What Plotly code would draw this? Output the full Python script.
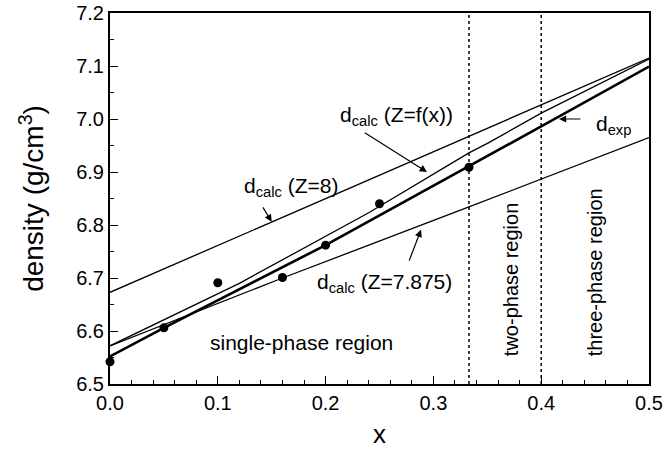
import plotly.graph_objects as go

# experimental points
x_pts = [0.0, 0.05, 0.1, 0.16, 0.2, 0.25, 0.333]
d_pts = [6.542, 6.606, 6.691, 6.701, 6.762, 6.840, 6.909]

# d_exp (thick line)
x_exp = [0.0, 0.05, 0.2, 0.333, 0.4, 0.5]
d_exp = [6.552, 6.606, 6.762, 6.910, 6.986, 7.099]

# d_calc (Z=f(x))
x_fx = [0.0, 0.12, 0.24, 0.333, 0.351, 0.4, 0.5]
d_fx = [6.572, 6.690, 6.823, 6.936, 6.955, 7.011, 7.113]

# d_calc (Z=8)
x_z8 = [0.0, 0.5]
d_z8 = [6.673, 7.115]

# d_calc (Z=7.875)
x_z7 = [0.0, 0.16, 0.333, 0.5]
d_z7 = [6.572, 6.700, 6.834, 6.965]

# phase boundaries
x_bounds = [0.333, 0.4]

FONT = "Liberation Sans, Arial, sans-serif"

fig = go.Figure()
fig.add_trace(go.Scatter(x=x_z8, y=d_z8, mode="lines", line=dict(color="black", width=1.3), showlegend=False))
fig.add_trace(go.Scatter(x=x_z7, y=d_z7, mode="lines", line=dict(color="black", width=1.3), showlegend=False))
fig.add_trace(go.Scatter(x=x_fx, y=d_fx, mode="lines", line=dict(color="black", width=1.3), showlegend=False))
fig.add_trace(go.Scatter(x=x_exp, y=d_exp, mode="lines", line=dict(color="black", width=2.6), showlegend=False))
fig.add_trace(go.Scatter(x=x_pts, y=d_pts, mode="markers", marker=dict(color="black", size=9),
                         cliponaxis=False, showlegend=False))

for xb in x_bounds:
    fig.add_shape(type="line", x0=xb, x1=xb, y0=6.5, y1=7.2, xref="x", yref="y",
                  line=dict(color="black", width=1.5, dash="dot"))

texts = [
    ("d<sub>calc</sub> (Z=f(x))", 0.2658, 7.006, 0, 21),
    ("d<sub>calc</sub> (Z=8)", 0.1679, 6.872, 0, 21),
    ("d<sub>calc</sub> (Z=7.875)", 0.2542, 6.691, 0, 21),
    ("d<sub>exp</sub>", 0.467, 6.989, 0, 21),
    ("single-phase region", 0.1776, 6.579, 0, 21),
    ("two-phase region", 0.372, 6.696, -90, 20),
    ("three-phase region", 0.4495, 6.710, -90, 20),
]
for t, x, y, ang, sz in texts:
    fig.add_annotation(x=x, y=y, text=t, showarrow=False, textangle=ang,
                       font=dict(family=FONT, size=sz, color="black"))

arrows = [
    (0.294, 6.900, 0.235, 6.976),
    (0.150, 6.806, 0.141, 6.836),
    (0.2885, 6.791, 0.277, 6.730),
    (0.4165, 7.000, 0.4378, 7.000),
]
for hx, hy, tx, ty in arrows:
    fig.add_annotation(x=hx, y=hy, ax=tx, ay=ty, xref="x", yref="y", axref="x", ayref="y",
                       text="", showarrow=True, arrowhead=2, arrowsize=1.2, arrowwidth=1.2,
                       arrowcolor="black")

fig.update_xaxes(range=[0, 0.5], dtick=0.1, tickformat=".1f", ticks="inside", ticklen=8,
                 tickwidth=1.3, tickcolor="black", showline=True, linecolor="black", linewidth=2,
                 mirror=True, showgrid=False, zeroline=False, automargin=False,
                 minor=dict(dtick=0.02, ticks="inside", ticklen=4, tickcolor="black", showgrid=False),
                 tickfont=dict(family=FONT, size=20, color="black"),
                 title=dict(text="x", font=dict(family=FONT, size=26, color="black"), standoff=12))
fig.update_yaxes(range=[6.5, 7.2], dtick=0.1, tickformat=".1f", ticks="inside", ticklen=8,
                 tickwidth=1.3, tickcolor="black", showline=True, linecolor="black", linewidth=2,
                 mirror=True, showgrid=False, zeroline=False, automargin=False,
                 minor=dict(dtick=0.05, ticks="inside", ticklen=4, tickcolor="black", showgrid=False),
                 tickfont=dict(family=FONT, size=20, color="black"),
                 title=dict(text="density (g/cm<sup>3</sup>)", font=dict(family=FONT, size=28, color="black"), standoff=24))

fig.update_layout(width=665, height=454, margin=dict(l=110, r=16, t=13, b=70, autoexpand=False),
                  plot_bgcolor="white", paper_bgcolor="white", font=dict(family=FONT))
fig.write_html("out.html", config={"displayModeBar": False},
               post_script="document.body.style.margin='0';")
